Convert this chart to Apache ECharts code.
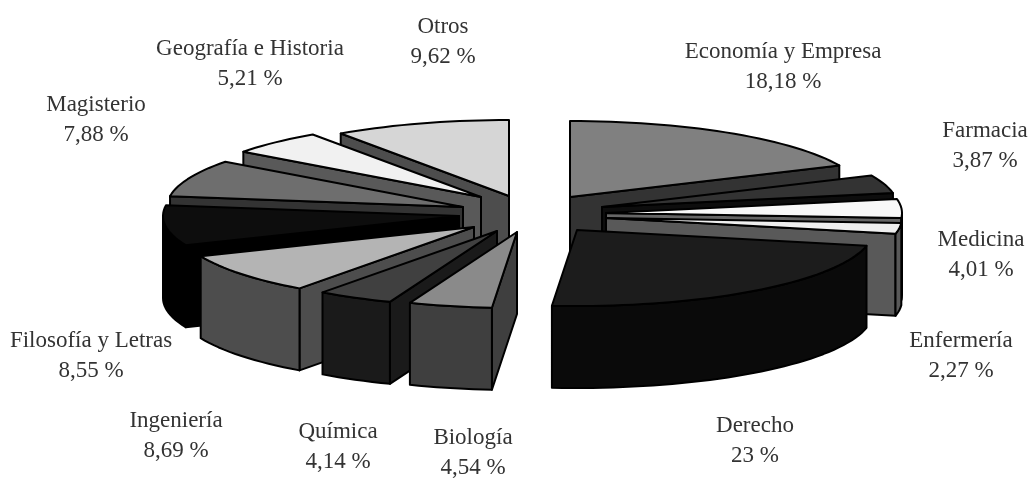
<!DOCTYPE html>
<html>
<head>
<meta charset="utf-8">
<style>html,body{margin:0;padding:0;background:#fff}#chart{width:1032px;height:479px}</style>
<script src="https://cdn.jsdelivr.net/npm/echarts@6/dist/echarts.min.js"></script>
</head>
<body>
<div id="chart"></div>
<script>
const categories = ['Economía y Empresa','Farmacia','Medicina','Enfermería','Derecho','Biología','Química','Ingeniería','Filosofía y Letras','Magisterio','Geografía e Historia','Otros'];
const shares = [18.18,3.87,4.01,2.27,23,4.54,4.14,8.69,8.55,7.88,5.21,9.62];

// Drawing style, kept apart from the data
const topFill  = ['#808080','#333333','#f8f8f8','#efefef','#1c1c1c','#8a8a8a','#404040','#b4b4b4','#0d0d0d','#6e6e6e','#f1f1f1','#d6d6d6'];
const sideFill = ['#333333','#0d0d0d','#666666','#595959','#0a0a0a','#3f3f3f','#1a1a1a','#4d4d4d','#000000','#333333','#595959','#4d4d4d'];
const explodeX = [30,62,66,66,37,-23,-43,-66,-81,-77,-59,-31];
const explodeY = [-18,-8,-2,3,15,17,16,12,1,-8,-18,-19];
const labelX = [783,985,981,961,755,473,338,176,91,96,250,443];
const labelY = [67,146,255,356,441,453,447,436,356,120,64,42];
const centerX = 540, centerY = 215, radiusX = 296, radiusY = 76, depth = 82;

const total = shares.reduce((a, b) => a + b, 0);
const rad = Math.PI / 180;
let running = 0;
const spans = shares.map(v => {
  const from = running / total * 360;
  running += v;
  return [from, running / total * 360];
});
const paintOrder = shares.map((_, i) => i).sort((a, b) => {
  const m = i => (spans[i][0] + spans[i][1]) / 2 * rad;
  return Math.cos(m(b)) - Math.cos(m(a));
});

function rim(cx, cy, deg, drop) {
  return [cx + radiusX * Math.sin(deg * rad), cy - radiusY * Math.cos(deg * rad) + drop];
}
function arc(cx, cy, a, b, drop) {
  const pts = [], n = Math.max(2, Math.ceil(Math.abs(b - a) / 2));
  for (let k = 0; k <= n; k++) pts.push(rim(cx, cy, a + (b - a) * k / n, drop));
  return pts;
}
const stroke = { stroke: '#000', lineWidth: 2, lineJoin: 'round' };
function poly(points, fill) {
  return { type: 'polygon', shape: { points }, style: Object.assign({ fill }, stroke) };
}
function renderSlice(params, api) {
  const i = api.value(0);
  const cx = centerX + explodeX[i], cy = centerY + explodeY[i];
  const [a, b] = spans[i];
  const kids = [];
  const cut = deg => {
    const p = rim(cx, cy, deg, 0);
    kids.push(poly([[cx, cy], p, [p[0], p[1] + depth], [cx, cy + depth]], sideFill[i]));
  };
  if (Math.sin(a * rad) < 0) cut(a);
  if (Math.sin(b * rad) > 0) cut(b);
  const lo = Math.max(a, 90), hi = Math.min(b, 270);
  if (hi > lo) {
    kids.push(poly(arc(cx, cy, lo, hi, 0).concat(arc(cx, cy, hi, lo, depth)), sideFill[i]));
  }
  kids.push(poly([[cx, cy]].concat(arc(cx, cy, a, b, 0)), topFill[i]));
  return { type: 'group', children: kids };
}
function renderLabel(params, api) {
  const i = api.value(0);
  return {
    type: 'text', x: labelX[i], y: labelY[i],
    style: {
      text: categories[i] + '\n' + String(shares[i]).replace('.', ',') + ' %',
      fill: '#333333', font: '23px "Liberation Serif"', lineHeight: 29.5,
      align: 'center', verticalAlign: 'middle'
    }
  };
}
const chart = echarts.init(document.getElementById('chart'), null, { renderer: 'canvas' });
chart.setOption({
  animation: false,
  backgroundColor: '#fff',
  series: [
    { type: 'custom', coordinateSystem: 'none', silent: true, renderItem: renderSlice, data: paintOrder.map(i => [i]) },
    { type: 'custom', coordinateSystem: 'none', silent: true, renderItem: renderLabel, data: categories.map((_, i) => [i]) }
  ]
});
</script>
</body>
</html>
